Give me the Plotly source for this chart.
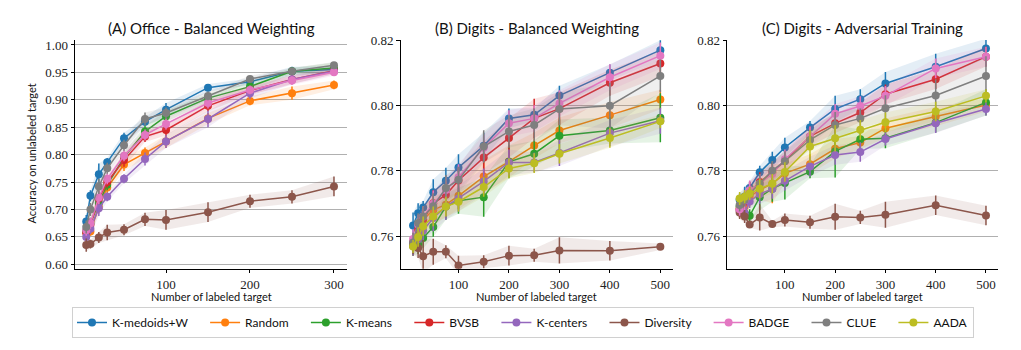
import plotly.graph_objects as go

methods = ["K-medoids+W", "Random", "K-means", "BVSB", "K-centers", "Diversity", "BADGE", "CLUE", "AADA"]
colors = ["#1f77b4", "#ff7f0e", "#2ca02c", "#d62728", "#9467bd", "#8c564b", "#e377c2", "#7f7f7f", "#bcbd22"]

x_office = [5, 10, 20, 30, 50, 75, 100, 150, 200, 250, 300]
x_digits = [10, 20, 30, 50, 75, 100, 150, 200, 250, 300, 400, 500]

# ---- (A) Office - Balanced Weighting ----
a_kmw = [0.678, 0.725, 0.764, 0.786, 0.830, 0.860, 0.882, 0.922, 0.933, 0.952, 0.955]
a_kmw_sd = [0.012, 0.010, 0.020, 0.008, 0.010, 0.008, 0.012, 0.007, 0.006, 0.008, 0.006]
a_random = [0.660, 0.660, 0.705, 0.740, 0.782, 0.803, 0.824, 0.866, 0.898, 0.912, 0.927]
a_random_sd = [0.010, 0.008, 0.012, 0.010, 0.012, 0.010, 0.012, 0.010, 0.008, 0.012, 0.008]
a_kmeans = [0.660, 0.675, 0.712, 0.745, 0.795, 0.842, 0.870, 0.903, 0.924, 0.952, 0.958]
a_kmeans_sd = [0.010, 0.010, 0.012, 0.010, 0.010, 0.010, 0.010, 0.008, 0.008, 0.006, 0.010]
a_bvsb = [0.657, 0.672, 0.720, 0.750, 0.790, 0.833, 0.845, 0.889, 0.917, 0.937, 0.953]
a_bvsb_sd = [0.010, 0.012, 0.014, 0.010, 0.012, 0.010, 0.010, 0.010, 0.008, 0.008, 0.006]
a_kcenters = [0.650, 0.665, 0.702, 0.723, 0.756, 0.792, 0.824, 0.865, 0.912, 0.937, 0.952]
a_kcenters_sd = [0.008, 0.010, 0.014, 0.008, 0.008, 0.012, 0.012, 0.015, 0.010, 0.008, 0.006]
a_diversity = [0.635, 0.637, 0.649, 0.658, 0.663, 0.682, 0.681, 0.695, 0.715, 0.723, 0.742]
a_diversity_sd = [0.012, 0.008, 0.010, 0.014, 0.010, 0.012, 0.018, 0.018, 0.012, 0.012, 0.018]
a_badge = [0.662, 0.675, 0.722, 0.756, 0.798, 0.836, 0.856, 0.894, 0.918, 0.935, 0.950]
a_badge_sd = [0.010, 0.010, 0.012, 0.010, 0.010, 0.010, 0.010, 0.010, 0.008, 0.008, 0.006]
a_clue = [0.668, 0.700, 0.742, 0.775, 0.817, 0.865, 0.876, 0.907, 0.938, 0.952, 0.963]
a_clue_sd = [0.012, 0.012, 0.014, 0.010, 0.010, 0.012, 0.010, 0.008, 0.006, 0.006, 0.006]

# ---- (B) Digits - Balanced Weighting ----
b_kmw = [0.7632, 0.7670, 0.7687, 0.7734, 0.7769, 0.7810, 0.7876, 0.7960, 0.7971, 0.8030, 0.8100, 0.8169]
b_kmw_sd = [0.004, 0.003, 0.002, 0.004, 0.004, 0.004, 0.004, 0.003, 0.002, 0.003, 0.0025, 0.003]
b_random = [0.757, 0.760, 0.765, 0.768, 0.7696, 0.7723, 0.7782, 0.7828, 0.7877, 0.7923, 0.7970, 0.8018]
b_random_sd = [0.003, 0.003, 0.004, 0.004, 0.004, 0.004, 0.005, 0.005, 0.004, 0.004, 0.004, 0.003]
b_kmeans = [0.757, 0.7575, 0.7594, 0.7628, 0.769, 0.7708, 0.7719, 0.7827, 0.7852, 0.7907, 0.7923, 0.7962]
b_kmeans_sd = [0.003, 0.003, 0.003, 0.003, 0.004, 0.004, 0.006, 0.005, 0.004, 0.005, 0.004, 0.0075]
b_bvsb = [0.758, 0.762, 0.765, 0.770, 0.7726, 0.777, 0.7840, 0.7900, 0.7960, 0.7990, 0.8069, 0.8128]
b_bvsb_sd = [0.003, 0.003, 0.003, 0.004, 0.004, 0.004, 0.005, 0.006, 0.006, 0.005, 0.004, 0.004]
b_kcenters = [0.757, 0.759, 0.7617, 0.7655, 0.769, 0.7715, 0.7767, 0.7825, 0.7825, 0.7854, 0.7915, 0.7953]
b_kcenters_sd = [0.003, 0.003, 0.003, 0.004, 0.004, 0.004, 0.004, 0.004, 0.003, 0.004, 0.004, 0.004]
b_diversity = [0.7574, 0.7563, 0.7538, 0.7552, 0.7552, 0.7510, 0.7521, 0.7540, 0.7541, 0.7556, 0.7555, 0.7567]
b_diversity_sd = [0.003, 0.003, 0.005, 0.004, 0.002, 0.003, 0.002, 0.003, 0.002, 0.004, 0.003, 0.001]
b_badge = [0.7591, 0.7635, 0.766, 0.7699, 0.7741, 0.778, 0.787, 0.7945, 0.796, 0.8006, 0.8086, 0.8152]
b_badge_sd = [0.003, 0.003, 0.003, 0.004, 0.004, 0.004, 0.004, 0.004, 0.004, 0.004, 0.004, 0.004]
b_clue = [0.758, 0.764, 0.766, 0.7691, 0.7747, 0.7772, 0.7874, 0.7920, 0.7940, 0.7989, 0.7999, 0.8090]
b_clue_sd = [0.003, 0.003, 0.003, 0.004, 0.004, 0.004, 0.005, 0.005, 0.005, 0.005, 0.007, 0.005]
b_aada = [0.7568, 0.7597, 0.763, 0.766, 0.769, 0.7705, 0.7750, 0.7807, 0.7823, 0.7852, 0.7900, 0.7951]
b_aada_sd = [0.002, 0.003, 0.003, 0.003, 0.003, 0.003, 0.003, 0.003, 0.003, 0.003, 0.003, 0.002]

# ---- (C) Digits - Adversarial Training ----
c_kmw = [0.7711, 0.7721, 0.7747, 0.7795, 0.7833, 0.7871, 0.7932, 0.7989, 0.8019, 0.8067, 0.8118, 0.8174]
c_kmw_sd = [0.002, 0.003, 0.002, 0.002, 0.0025, 0.003, 0.002, 0.004, 0.003, 0.0035, 0.004, 0.003]
c_random = [0.7685, 0.769, 0.772, 0.7742, 0.776, 0.7792, 0.7820, 0.7867, 0.7886, 0.7930, 0.7966, 0.8001]
c_random_sd = [0.003, 0.003, 0.003, 0.003, 0.006, 0.003, 0.003, 0.003, 0.002, 0.003, 0.003, 0.002]
c_kmeans = [0.769, 0.767, 0.7662, 0.7719, 0.7745, 0.7762, 0.7797, 0.7859, 0.7896, 0.7899, 0.7947, 0.8009]
c_kmeans_sd = [0.002, 0.002, 0.002, 0.004, 0.004, 0.005, 0.002, 0.008, 0.003, 0.003, 0.003, 0.004]
c_bvsb = [0.768, 0.7705, 0.7735, 0.7765, 0.7795, 0.783, 0.7905, 0.7945, 0.7978, 0.8034, 0.8080, 0.8149]
c_bvsb_sd = [0.002, 0.002, 0.003, 0.003, 0.003, 0.003, 0.003, 0.003, 0.003, 0.003, 0.003, 0.003]
c_kcenters = [0.768, 0.767, 0.7706, 0.7729, 0.7744, 0.7769, 0.7813, 0.7848, 0.7857, 0.7897, 0.7945, 0.7989]
c_kcenters_sd = [0.002, 0.002, 0.002, 0.003, 0.003, 0.003, 0.003, 0.003, 0.003, 0.002, 0.003, 0.002]
c_diversity = [0.7672, 0.7660, 0.7635, 0.7657, 0.7637, 0.7649, 0.7642, 0.7659, 0.7657, 0.7665, 0.7694, 0.7663]
c_diversity_sd = [0.002, 0.002, 0.001, 0.004, 0.001, 0.002, 0.002, 0.004, 0.002, 0.004, 0.003, 0.003]
c_badge = [0.7682, 0.771, 0.774, 0.776, 0.779, 0.7835, 0.7905, 0.7974, 0.7998, 0.8029, 0.8113, 0.8149]
c_badge_sd = [0.002, 0.003, 0.003, 0.003, 0.003, 0.003, 0.003, 0.003, 0.003, 0.003, 0.003, 0.003]
c_clue = [0.7695, 0.771, 0.773, 0.776, 0.780, 0.7829, 0.7894, 0.7940, 0.7960, 0.7991, 0.8030, 0.8090]
c_clue_sd = [0.002, 0.002, 0.002, 0.003, 0.003, 0.003, 0.003, 0.004, 0.003, 0.004, 0.005, 0.006]
c_aada = [0.7715, 0.772, 0.773, 0.7745, 0.776, 0.7796, 0.7874, 0.7899, 0.7925, 0.7948, 0.7981, 0.8029]
c_aada_sd = [0.002, 0.002, 0.002, 0.003, 0.003, 0.003, 0.005, 0.004, 0.003, 0.003, 0.003, 0.002]

panels = [
    dict(title="(A) Office - Balanced Weighting", x=x_office,
         series=[(a_kmw, a_kmw_sd), (a_random, a_random_sd), (a_kmeans, a_kmeans_sd), (a_bvsb, a_bvsb_sd),
                 (a_kcenters, a_kcenters_sd), (a_diversity, a_diversity_sd), (a_badge, a_badge_sd),
                 (a_clue, a_clue_sd), None],
         yrange=[0.592, 1.009], yticks=[0.60, 0.65, 0.70, 0.75, 0.80, 0.85, 0.90, 0.95, 1.00],
         xrange=[-8, 315.5], xticks=[100, 200, 300], dom=[75.3, 347.0]),
    dict(title="(B) Digits - Balanced Weighting", x=x_digits,
         series=[(b_kmw, b_kmw_sd), (b_random, b_random_sd), (b_kmeans, b_kmeans_sd), (b_bvsb, b_bvsb_sd),
                 (b_kcenters, b_kcenters_sd), (b_diversity, b_diversity_sd), (b_badge, b_badge_sd),
                 (b_clue, b_clue_sd), (b_aada, b_aada_sd)],
         yrange=[0.75, 0.82], yticks=[0.76, 0.78, 0.80, 0.82],
         xrange=[-14.5, 524.5], xticks=[100, 200, 300, 400, 500], dom=[400.7, 672.7]),
    dict(title="(C) Digits - Adversarial Training", x=x_digits,
         series=[(c_kmw, c_kmw_sd), (c_random, c_random_sd), (c_kmeans, c_kmeans_sd), (c_bvsb, c_bvsb_sd),
                 (c_kcenters, c_kcenters_sd), (c_diversity, c_diversity_sd), (c_badge, c_badge_sd),
                 (c_clue, c_clue_sd), (c_aada, c_aada_sd)],
         yrange=[0.75, 0.82], yticks=[0.76, 0.78, 0.80, 0.82],
         xrange=[-14.5, 524.5], xticks=[100, 200, 300, 400, 500], dom=[727.3, 998.3]),
]

W, H = 1021, 350
TOP, BOT = 40.0, 268.7
SANS = "Lato, Liberation Sans, sans-serif"
SERIF = "Liberation Serif, DejaVu Serif, serif"
PAD = "\u00a0" * 4


def rgba(hexc, a):
    h = hexc.lstrip("#")
    return "rgba(%d,%d,%d,%.3f)" % (int(h[0:2], 16), int(h[2:4], 16), int(h[4:6], 16), a)


fig = go.Figure()
annotations = []
for pi, p in enumerate(panels):
    ax = "" if pi == 0 else str(pi + 1)
    xref, yref = "x" + ax, "y" + ax
    xs = p["x"]
    for mi, s in enumerate(p["series"]):
        if s is None:
            continue
        m, sd = s
        col = colors[mi]
        up = [a + b for a, b in zip(m, sd)]
        lo = [a - b for a, b in zip(m, sd)]
        fig.add_trace(go.Scatter(x=xs + xs[::-1], y=up + lo[::-1], fill="toself",
                                 fillcolor=rgba(col, 0.12), line=dict(width=0), mode="lines",
                                 hoverinfo="skip", showlegend=False, xaxis=xref, yaxis=yref))
        label = methods[mi] + (PAD if mi < len(methods) - 1 else "")
        fig.add_trace(go.Scatter(x=xs, y=m, mode="lines+markers", name=label,
                                 line=dict(color=col, width=1.5),
                                 marker=dict(color=col, size=8),
                                 error_y=dict(type="data", array=sd, visible=True, color=col,
                                              thickness=1.5, width=0),
                                 showlegend=(pi == 1), legendgroup=methods[mi],
                                 xaxis=xref, yaxis=yref))
    d0, d1 = p["dom"]
    xa = dict(domain=[d0 / W, d1 / W], range=p["xrange"], tickvals=p["xticks"],
              ticktext=[str(t) for t in p["xticks"]], showgrid=False, zeroline=False,
              showline=True, linecolor="black", linewidth=1.2, ticks="outside", ticklen=3.5,
              tickwidth=1, tickcolor="black", tickfont=dict(family=SERIF, size=13, color="#222"),
              anchor=yref, automargin=False)
    ya = dict(domain=[1 - BOT / H, 1 - TOP / H], range=p["yrange"], tickvals=p["yticks"],
              ticktext=["%.2f" % t for t in p["yticks"]], showgrid=True, gridcolor="#b0b0b0",
              gridwidth=1, zeroline=False, showline=True, linecolor="black", linewidth=1.2,
              ticks="outside", ticklen=3.5, tickwidth=1, tickcolor="black",
              tickfont=dict(family=SERIF, size=13, color="#222"), anchor=xref, automargin=False)
    fig.update_layout(**{"xaxis" + ax: xa, "yaxis" + ax: ya})
    cx = (d0 + d1) / 2 / W
    annotations.append(dict(text=p["title"], x=cx, y=1 - 28 / H, xref="paper", yref="paper",
                            showarrow=False, xanchor="center", yanchor="middle",
                            font=dict(family=SANS, size=15, color="#111")))
    annotations.append(dict(text="Number of labeled target", x=cx, y=1 - 296 / H, xref="paper",
                            yref="paper", showarrow=False, xanchor="center", yanchor="middle",
                            font=dict(family=SANS, size=11, color="#111")))

annotations.append(dict(text="Accuracy on unlabeled target", x=31.5 / W, y=1 - 154 / H, xref="paper",
                        yref="paper", showarrow=False, textangle=-90, xanchor="center",
                        yanchor="middle", font=dict(family=SANS, size=11, color="#111")))

fig.update_layout(
    width=W, height=H, margin=dict(l=0, r=0, t=0, b=0),
    paper_bgcolor="white", plot_bgcolor="white",
    annotations=annotations,
    legend=dict(orientation="h", x=523 / W, y=1 - 307 / H, xanchor="center", yanchor="top",
                font=dict(family=SANS, size=12, color="#111"), bordercolor="#d0d0d0",
                borderwidth=1, bgcolor="white", itemwidth=30, tracegroupgap=0),
    showlegend=True,
)

fig.write_html("out.html")
